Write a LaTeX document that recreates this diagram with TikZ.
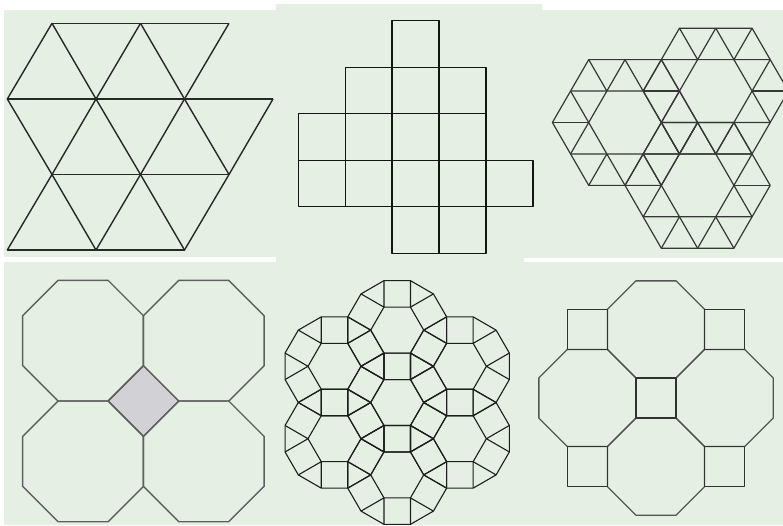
\documentclass[tikz,border=0pt]{standalone}
\usetikzlibrary{calc}
\definecolor{panelbg}{RGB}{229,239,228}
\definecolor{diamondgrey}{RGB}{209,209,214}
\definecolor{lineA}{RGB}{40,40,40}
\definecolor{lineB}{RGB}{20,20,20}
\definecolor{lineC}{RGB}{55,55,55}
\definecolor{lineD}{RGB}{95,95,95}
\definecolor{lineE}{RGB}{30,30,30}
\definecolor{lineF}{RGB}{85,85,85}
\definecolor{lineG}{RGB}{50,50,50}
\tikzset{
  pone/.style={draw=lineA, line width=1.4pt, line join=round},
  ptwo/.style={draw=lineB, line width=1.4pt, line join=round},
  pthree/.style={draw=lineC, line width=1.2pt, line join=round},
  pfour/.style={draw=lineD, line width=1.4pt, line join=round},
  pfive/.style={draw=lineE, line width=1.1pt, line join=round},
  psix/.style={draw=lineF, line width=1.3pt, line join=round},
  psixsq/.style={draw=lineG, line width=1.5pt, line join=round},
  hexgroup/.pic={
    \draw[pthree] (0:72.6) \foreach \m in {1,...,5}{ -- (60*\m:72.6)} -- cycle;
    \draw[pthree] (0:36.3) \foreach \m in {1,...,5}{ -- (60*\m:36.3)} -- cycle;
    \foreach \k in {0,...,5}{
      \draw[pthree] (60*\k-30:62.87) -- (60*\k:36.3) -- (60*\k+30:62.87);
      \draw[pthree] (60*\k:36.3) -- (60*\k:72.6);
    }
  },
  rhombihex/.pic={
    \draw[pfive] (0:26.5) \foreach \m in {1,...,5}{ -- (60*\m:26.5)} -- cycle;
    \draw[pfive] (15:51.19) \foreach \m in {1,...,11}{ -- (15+30*\m:51.19)} -- cycle;
    \foreach \j in {0,...,5}{
      \draw[pfive] (60*\j-15:51.19) -- (60*\j:26.5) -- (60*\j+15:51.19);
    }
  },
  octfour/.pic={
    \draw[pfour] (22.5:65.33) \foreach \m in {1,...,7}{ -- (22.5+45*\m:65.33)} -- cycle;
  },
  octsix/.pic={
    \draw[psix] (22.5:52.52) \foreach \m in {1,...,7}{ -- (22.5+45*\m:52.52)} -- cycle;
  }
}
\begin{document}
\begin{tikzpicture}[x=1pt,y=-1pt]
\fill[panelbg] (0,0) rectangle (783,525);
\useasboundingbox (0,0) rectangle (783,525);
% white gaps between panels
\fill[white] (0,0) rectangle (276,10);
\fill[white] (276,0) rectangle (542,4);
\fill[white] (542,0) rectangle (783,10);
\fill[white] (0,0) rectangle (4,525);
\fill[white] (0,257) rectangle (276,262);
\fill[white] (524,257.5) rectangle (783,262);

% ---------- Panel 1: triangles ----------
\coordinate (a1) at (52,23.3);  \coordinate (a2) at (140.5,23.3); \coordinate (a3) at (229,23.3);
\coordinate (b1) at (7.3,99);   \coordinate (b2) at (96,99);      \coordinate (b3) at (184.5,99); \coordinate (b4) at (273,99);
\coordinate (c1) at (52,174.5); \coordinate (c2) at (140.5,174.5);\coordinate (c3) at (229,174.5);
\coordinate (d1) at (7.3,250);  \coordinate (d2) at (96,250);     \coordinate (d3) at (184.5,250);
\draw[pone] (a1) -- (a3);
\draw[pone] (b1) -- (b4);
\draw[pone] (c1) -- (c3);
\draw[pone] (d1) -- (d3);
\draw[pone] (b1) -- (a1);
\draw[pone] (d1) -- (c1) -- (b2) -- (a2);
\draw[pone] (d2) -- (c2) -- (b3) -- (a3);
\draw[pone] (d3) -- (c3) -- (b4);
\draw[pone] (b1) -- (c1) -- (d2);
\draw[pone] (a1) -- (b2) -- (c2) -- (d3);
\draw[pone] (a2) -- (b3) -- (c3);

% ---------- Panel 2: squares ----------
\begin{scope}[xshift=298.3pt, yshift=-20.7pt, x=46.94pt, y=-46.52pt]
  \foreach \c/\r in {2/0,1/1,2/1,3/1,0/2,1/2,2/2,3/2,0/3,1/3,2/3,3/3,4/3,2/4,3/4}
    \draw[ptwo] (\c,\r) rectangle ++(1,1);
\end{scope}

% ---------- Panel 3: hexagon groups ----------
\begin{scope}
  \clip (542,10) rectangle (783,258);
  \pic at (625,122.5) {hexgroup};
  \pic at (715.75,91.06) {hexgroup};
  \pic at (697.6,185.37) {hexgroup};
\end{scope}

% ---------- Panel 4: octagons with grey square ----------
\fill[diamondgrey] (143.4,365.64) -- (178.76,401) -- (143.4,436.36) -- (108.04,401) -- cycle;
\pic at (83.05,340.65) {octfour};
\pic at (203.75,340.65) {octfour};
\pic at (83.05,461.35) {octfour};
\pic at (203.75,461.35) {octfour};
\draw[pfour] (143.4,365.64) -- (178.76,401) -- (143.4,436.36) -- (108.04,401) -- cycle;

% ---------- Panel 5: 3.4.6.4 patch ----------
\pic at (397.2,402.5) {rhombihex};
\pic at (397.2,330.1) {rhombihex};
\pic at (397.2,474.9) {rhombihex};
\pic at (334.5,366.3) {rhombihex};
\pic at (334.5,438.7) {rhombihex};
\pic at (459.9,366.3) {rhombihex};
\pic at (459.9,438.7) {rhombihex};

% ---------- Panel 6: octagons and squares ----------
\pic at (656,329.37) {octsix};
\pic at (656,466.63) {octsix};
\pic at (587.37,398) {octsix};
\pic at (724.63,398) {octsix};
\draw[psixsq] (635.9,377.9) rectangle (676.1,418.1);
\draw[psixsq] (567.27,309.27) rectangle (607.47,349.47);
\draw[psixsq] (704.53,309.27) rectangle (744.73,349.47);
\draw[psixsq] (567.27,446.53) rectangle (607.47,486.73);
\draw[psixsq] (704.53,446.53) rectangle (744.73,486.73);
\end{tikzpicture}
\end{document}
